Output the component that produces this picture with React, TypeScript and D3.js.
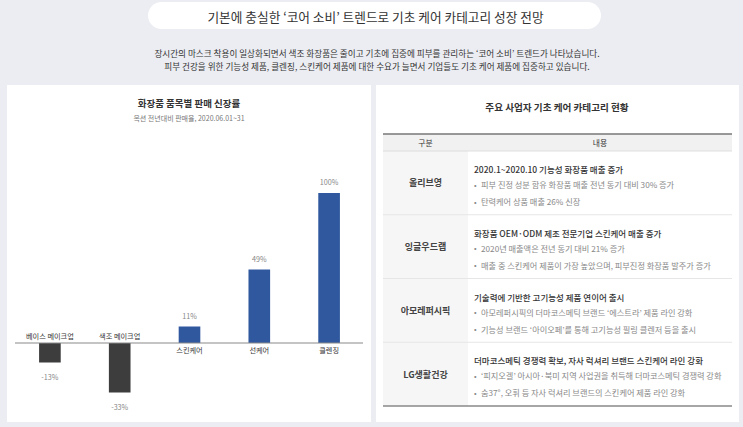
import React, { useEffect, useRef } from 'react';
import * as d3 from 'd3';

const titleText = '기본에 충실한 ‘코어 소비’ 트렌드로 기초 케어 카테고리 성장 전망';
const introLines = [
  '장시간의 마스크 착용이 일상화되면서 색조 화장품은 줄이고 기초에 집중에 피부를 관리하는 ‘코어 소비’ 트렌드가 나타났습니다.',
  '피부 건강을 위한 기능성 제품, 클렌징, 스킨케어 제품에 대한 수요가 늘면서 기업들도 기초 케어 제품에 집중하고 있습니다.',
];
const chartTitle = '화장품 품목별 판매 신장률';
const chartSubtitle = '옥션 전년대비 판매율, 2020.06.01~31';
const categories = ['베이스 메이크업', '색조 메이크업', '스킨케어', '선케어', '클렌징'];
const growth = [-13, -33, 11, 49, 100];

const tableTitle = '주요 사업자 기초 케어 카테고리 현황';
const tableHeaders = ['구분', '내용'];
const companies = ['올리브영', '잉글우드랩', '아모레퍼시픽', 'LG생활건강'];
const headlines = [
  '2020.1~2020.10 기능성 화장품 매출 증가',
  '화장품 OEM·ODM 제조 전문기업 스킨케어 매출 증가',
  '기술력에 기반한 고기능성 제품 연이어 출시',
  '더마코스메틱 경쟁력 확보, 자사 럭셔리 브랜드 스킨케어 라인 강화',
];
const bullets = [
  ['피부 진정 성분 함유 화장품 매출 전년 동기 대비 30% 증가', '탄력케어 상품 매출 26% 신장'],
  ['2020년 매출액은 전년 동기 대비 21% 증가', '매출 중 스킨케어 제품이 가장 높았으며, 피부진정 화장품 발주가 증가'],
  ['아모레퍼시픽의 더마코스메틱 브랜드 ‘에스트라’ 제품 라인 강화', '기능성 브랜드 ‘아이오페’를 통해 고기능성 필링 클렌저 등을 출시'],
  ['‘피지오겔’ 아시아·북미 지역 사업권을 취득해 더마코스메틱 경쟁력 강화', '숨37°, 오휘 등 자사 럭셔리 브랜드의 스킨케어 제품 라인 강화'],
];

const W = 743;
const H = 427;
const FONT = '"Noto Sans CJK KR", "Noto Sans", sans-serif';

export default function App() {
  const ref = useRef<SVGSVGElement>(null);

  useEffect(() => {
    const svg = d3.select(ref.current);
    svg.selectAll('*').remove();
    svg.attr('font-family', FONT);

    svg.append('rect').attr('width', W).attr('height', H).attr('fill', '#ecedf2');

    // Title pill
    svg.append('rect').attr('x', 148).attr('y', 2).attr('width', 453).attr('height', 27)
      .attr('rx', 13.5).attr('fill', '#ffffff');
    svg.append('text').attr('x', 375.5).attr('y', 16).attr('text-anchor', 'middle')
      .attr('dominant-baseline', 'central').attr('font-size', 12.7).attr('fill', '#333')
      .text(titleText);

    // Intro
    introLines.forEach((l, i) => {
      svg.append('text').attr('x', 377).attr('y', 53 + i * 13.3).attr('text-anchor', 'middle')
        .attr('dominant-baseline', 'central').attr('font-size', 8.6).attr('fill', '#333')
        .text(l);
    });

    // Panels
    svg.append('rect').attr('x', 7).attr('y', 85).attr('width', 364).attr('height', 337).attr('fill', '#fff');
    svg.append('rect').attr('x', 376).attr('y', 85).attr('width', 363).attr('height', 337).attr('fill', '#fff');

    // ---- Bar chart ----
    svg.append('text').attr('x', 189).attr('y', 103).attr('text-anchor', 'middle')
      .attr('dominant-baseline', 'central').attr('font-size', 9.5).attr('font-weight', 700)
      .attr('fill', '#333').text(chartTitle);
    svg.append('text').attr('x', 189).attr('y', 118).attr('text-anchor', 'middle')
      .attr('dominant-baseline', 'central').attr('font-size', 7).attr('fill', '#777')
      .text(chartSubtitle);

    const x = d3.scaleBand<string>().domain(categories).range([15, 364])
      .paddingInner(0.69).paddingOuter(0.345);
    const y = d3.scaleLinear().domain([-33, 100]).range([392.5, 193]);
    const y0 = y(0);

    const g = svg.append('g');
    g.selectAll('rect.bar').data(categories).enter().append('rect')
      .attr('x', (d) => x(d)!)
      .attr('width', x.bandwidth())
      .attr('y', (d, i) => Math.min(y(growth[i]), y0))
      .attr('height', (d, i) => Math.abs(y(growth[i]) - y0))
      .attr('fill', (d, i) => (growth[i] < 0 ? '#3d3d3d' : '#2f589f'));

    g.append('line').attr('x1', 15).attr('x2', 363).attr('y1', y0).attr('y2', y0)
      .attr('stroke', '#8a8a8a').attr('stroke-width', 1.2);

    categories.forEach((c, i) => {
      const cx = x(c)! + x.bandwidth() / 2;
      const v = growth[i];
      g.append('text').attr('x', cx).attr('y', v < 0 ? y0 - 7 : y0 + 7)
        .attr('text-anchor', 'middle').attr('dominant-baseline', 'central')
        .attr('font-size', 7.2).attr('fill', '#333').text(c);
      g.append('text').attr('x', cx).attr('y', v < 0 ? y(v) + 14 : y(v) - 11)
        .attr('text-anchor', 'middle').attr('dominant-baseline', 'central')
        .attr('font-size', 7.2).attr('fill', '#888').text(`${v}%`);
    });

    // ---- Table ----
    svg.append('text').attr('x', 557).attr('y', 107).attr('text-anchor', 'middle')
      .attr('dominant-baseline', 'central').attr('font-size', 9.6).attr('font-weight', 700)
      .attr('fill', '#333').text(tableTitle);

    const tx0 = 383, tx1 = 732, col = 468;
    const headTop = 134, headBot = 151, tableBot = 406;
    const rowH = (tableBot - headBot) / companies.length;

    svg.append('rect').attr('x', tx0).attr('y', headTop).attr('width', tx1 - tx0).attr('height', headBot - headTop)
      .attr('fill', '#f1f1f1');
    svg.append('rect').attr('x', tx0).attr('y', headBot).attr('width', col - tx0).attr('height', tableBot - headBot)
      .attr('fill', '#f6f6f6');
    svg.append('line').attr('x1', tx0).attr('x2', tx1).attr('y1', headTop).attr('y2', headTop)
      .attr('stroke', '#777').attr('stroke-width', 1.3);
    svg.append('line').attr('x1', tx0).attr('x2', tx1).attr('y1', headBot).attr('y2', headBot)
      .attr('stroke', '#d8d8d8').attr('stroke-width', 0.8);
    svg.append('text').attr('x', (tx0 + col) / 2).attr('y', (headTop + headBot) / 2)
      .attr('text-anchor', 'middle').attr('dominant-baseline', 'central').attr('font-size', 7.8)
      .attr('fill', '#333').text(tableHeaders[0]);
    svg.append('text').attr('x', (col + tx1) / 2).attr('y', (headTop + headBot) / 2)
      .attr('text-anchor', 'middle').attr('dominant-baseline', 'central').attr('font-size', 7.8)
      .attr('fill', '#333').text(tableHeaders[1]);

    companies.forEach((c, i) => {
      const top = headBot + i * rowH;
      if (i > 0) {
        svg.append('line').attr('x1', tx0).attr('x2', tx1).attr('y1', top).attr('y2', top)
          .attr('stroke', '#e6e6e6').attr('stroke-width', 1);
      }
      svg.append('text').attr('x', (tx0 + col) / 2).attr('y', top + rowH / 2)
        .attr('text-anchor', 'middle').attr('dominant-baseline', 'central').attr('font-size', 9)
        .attr('font-weight', 700).attr('fill', '#444').text(c);
      svg.append('text').attr('x', 474).attr('y', top + 18)
        .attr('dominant-baseline', 'central').attr('font-size', 8.5).attr('font-weight', 500)
        .attr('fill', '#333').text(headlines[i]);
      bullets[i].forEach((b, j) => {
        const by = top + 33 + j * 17;
        svg.append('text').attr('x', 474).attr('y', by).attr('dominant-baseline', 'central')
          .attr('font-size', 7.6).attr('fill', '#888').text('•');
        svg.append('text').attr('x', 481).attr('y', by).attr('dominant-baseline', 'central')
          .attr('font-size', 8.2).attr('fill', '#888').text(b);
      });
    });

    svg.append('line').attr('x1', tx0).attr('x2', tx1).attr('y1', tableBot).attr('y2', tableBot)
      .attr('stroke', '#888').attr('stroke-width', 1.6);
  }, []);

  return (
    <div style={{ position: 'fixed', left: 0, top: 0 }}>
      <svg ref={ref} width={W} height={H} style={{ display: 'block' }} />
    </div>
  );
}
